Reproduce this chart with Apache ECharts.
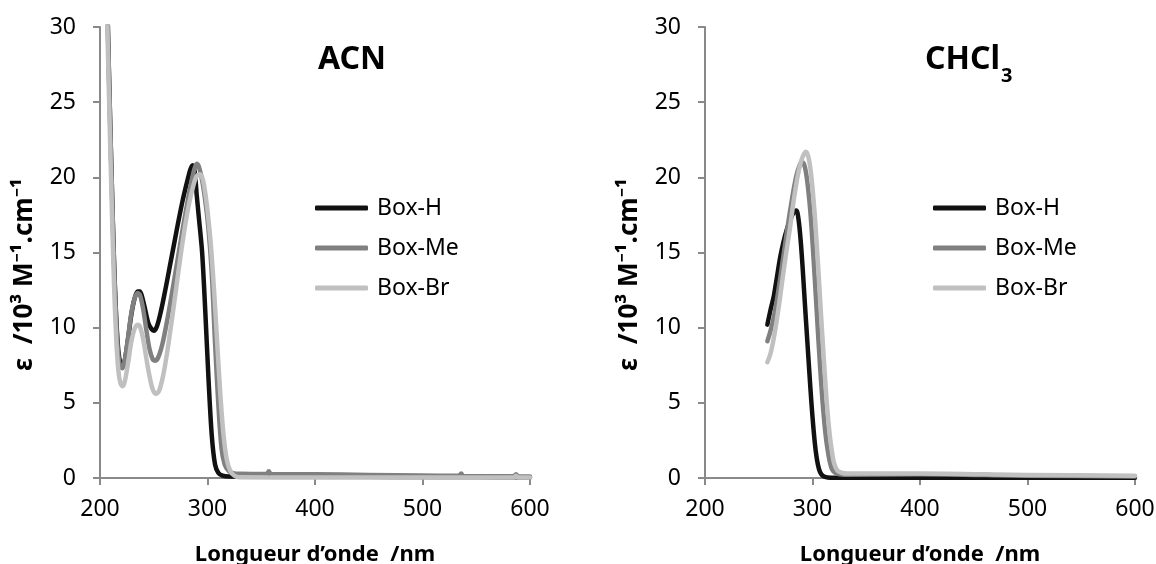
<!DOCTYPE html>
<html><head><meta charset="utf-8">
<script src="https://cdn.jsdelivr.net/npm/echarts@6/dist/echarts.min.js"></script>
<style>body{margin:0;background:#fff}#c{width:1156px;height:564px}</style>
</head><body><div id="c"></div><script>
// ---- data ----
const seriesNames = ['Box-H', 'Box-Me', 'Box-Br'];
const xTicks = [200, 300, 400, 500, 600];
const yTicks = [0, 5, 10, 15, 20, 25, 30];

// ACN
const acnH_wl  = [203,205,207,209,211,213,215,217,219,221,223,226,229,232,235,237,239,242,245,248,250,253,257,261,265,269,273,277,281,284,286,288,290,292,295,298,301,304,307,310,314,320,340,357,360,400,450,500,550,600];
const acnH_eps = [48,38,31,25,19.5,14.5,10.8,8.5,7.6,7.4,7.8,9.2,10.8,11.9,12.4,12.4,12.1,11.2,10.3,9.9,9.8,10.1,11.2,12.6,14.1,15.6,17.1,18.5,19.7,20.5,20.8,20.4,18.8,17.3,15.0,11.0,6.5,2.8,0.9,0.35,0.15,0.1,0.1,0.1,0.1,0.1,0.08,0.07,0.06,0.05];

const acnMe_wl  = [203,205,207,209,211,213,215,217,219,221,223,226,229,232,235,237,240,243,246,249,251,254,258,262,266,270,274,278,282,285,288,290,292,295,298,301,304,307,310,313,316,320,325,330,355,357,359,400,450,500,534,536,538,585,587,589,600];
const acnMe_eps = [48,38,31,25,19.5,14.5,10.6,8.2,7.4,7.3,7.8,9.3,10.9,11.9,12.3,12.2,11.3,9.9,8.6,7.9,7.8,8.0,8.9,10.3,11.9,13.6,15.3,17.0,18.6,19.7,20.6,20.9,20.7,19.8,18.4,16.5,13.6,9.0,5.0,2.0,0.9,0.45,0.3,0.28,0.27,0.45,0.27,0.25,0.2,0.16,0.15,0.3,0.14,0.12,0.25,0.11,0.1];

const acnBr_wl  = [203,205,207,209,211,213,215,217,219,221,223,226,229,232,235,237,240,243,246,249,252,255,259,263,267,271,275,279,283,287,290,293,295,297,300,303,306,309,312,315,318,321,325,330,400,500,585,587,589,600];
const acnBr_eps = [46,36,29.5,23.5,18,13,9.4,7.2,6.3,6.1,6.4,7.6,9.0,9.9,10.2,10.1,9.3,8.0,6.8,5.9,5.6,5.8,6.9,8.6,10.6,12.7,14.8,16.7,18.3,19.5,20.1,20.2,20.0,19.4,17.8,15.6,12.6,9.0,5.5,2.8,1.2,0.5,0.15,0.05,0.03,0.03,0.03,0.15,0.03,0.03];

// CHCl3
const chH_wl  = [258,261,264,267,270,273,276,279,282,285,287,289,291,293,295,297,299,301,303,305,307,310,314,330,400,500,600];
const chH_eps = [10.2,11.2,12.1,13.4,14.7,15.7,16.5,17.1,17.6,17.8,17.2,15.8,13.8,11.5,9.3,7.1,5.0,3.2,1.8,0.9,0.4,0.12,0.04,0.02,0.02,0.02,0.02];

const chMe_wl  = [258,261,264,267,270,273,276,279,282,285,288,290,292,294,296,298,300,302,304,306,308,310,312,314,316,318,321,325,330,400,500,600];
const chMe_eps = [9.1,9.8,10.7,11.9,13.3,14.8,16.3,17.7,19.0,20.1,20.8,21.0,20.9,20.3,19.2,17.7,15.7,13.4,11.0,8.6,6.4,4.5,3.0,1.9,1.1,0.6,0.35,0.25,0.22,0.25,0.15,0.1];

const chBr_wl  = [258,261,264,267,270,273,276,279,282,285,288,291,294,296,298,300,302,304,306,308,310,312,314,316,318,320,323,327,332,400,500,600];
const chBr_eps = [7.7,8.3,9.3,10.6,12.1,13.7,15.2,16.6,18.2,19.6,20.7,21.4,21.7,21.4,20.6,19.3,17.6,15.5,13.2,10.8,8.5,6.3,4.4,2.9,1.8,1.0,0.5,0.35,0.3,0.3,0.2,0.15];

const colors = ['#111111', '#808080', '#c0c0c0'];
// ---- chart ----
const FONT = 'Noto Sans';
function pairs(xs, ys){ return xs.map((x,i)=>[x, ys[i]]); }
const chart = echarts.init(document.getElementById('c'), null, {renderer:'canvas'});
const axisColor = '#898989';
function xAx(gi){ return {
  gridIndex: gi, type:'value', min: xTicks[0], max: xTicks[xTicks.length-1], interval: 100,
  axisLine:{lineStyle:{color:axisColor, width:2}},
  axisTick:{show:true, length:7, lineStyle:{color:axisColor, width:2}},
  axisLabel:{fontSize:23, color:'#000', margin:20, fontFamily:FONT},
  splitLine:{show:false},
  name:'Longueur d’onde  /nm', nameLocation:'middle', nameGap:66,
  nameTextStyle:{fontSize:22, fontWeight:'bold', color:'#000', fontFamily:FONT}
};}
function yAx(gi){ return {
  gridIndex: gi, type:'value', min: yTicks[0], max: yTicks[yTicks.length-1], interval: 5,
  axisLine:{show:true, lineStyle:{color:axisColor, width:2}},
  axisTick:{show:true, length:7, lineStyle:{color:axisColor, width:2}},
  axisLabel:{fontSize:23, color:'#000', margin:24, fontFamily:FONT},
  splitLine:{show:false},
  name:'ε  /10³ M⁻¹.cm⁻¹', nameLocation:'middle', nameGap:62,
  nameTextStyle:{fontSize:26, fontWeight:'bold', color:'#000', fontFamily:FONT, padding:[0,44,0,0]}
};}
function ser(name, data, gi, ci){ return {
  name, type:'line', data, xAxisIndex:gi, yAxisIndex:gi, showSymbol:false, symbol:'none',
  smooth:0.3, clip:true, lineStyle:{width:4.5, color:colors[ci], cap:'round', join:'round'},
  itemStyle:{color:colors[ci]}
};}
function leg(left){ return {
  data: seriesNames, orient:'vertical', left, top:189, itemWidth:53, itemHeight:5, itemGap:12,
  icon:'roundRect', textStyle:{fontSize:23, fontFamily:FONT, color:'#000', lineHeight:28, padding:[0,0,0,4]}
};}
chart.setOption({
  animation:false,
  grid:[{left:100, top:27, width:430, bottom:86, containLabel:false, outerBoundsMode:'none'},
        {left:705, top:27, width:430, bottom:86, containLabel:false, outerBoundsMode:'none'}],
  xAxis:[xAx(0), xAx(1)],
  yAxis:[yAx(0), yAx(1)],
  legend:[leg(310), leg(928)],
  series:[
    ser('Box-H', pairs(acnH_wl, acnH_eps), 0, 0),
    ser('Box-Me', pairs(acnMe_wl, acnMe_eps), 0, 1),
    ser('Box-Br', pairs(acnBr_wl, acnBr_eps), 0, 2),
    ser('Box-H', pairs(chH_wl, chH_eps), 1, 0),
    ser('Box-Me', pairs(chMe_wl, chMe_eps), 1, 1),
    ser('Box-Br', pairs(chBr_wl, chBr_eps), 1, 2)
  ],
  graphic:[
    {type:'text', left:318, top:44, style:{text:'ACN', fontSize:32, fontWeight:'bold', fontFamily:FONT, fill:'#000'}},
    {type:'text', left:925, top:44, style:{text:'CHCl', fontSize:32, fontWeight:'bold', fontFamily:FONT, fill:'#000'}},
    {type:'text', left:1001, top:66, style:{text:'3', fontSize:20, fontWeight:'bold', fontFamily:FONT, fill:'#000'}}
  ]
});
</script></body></html>
